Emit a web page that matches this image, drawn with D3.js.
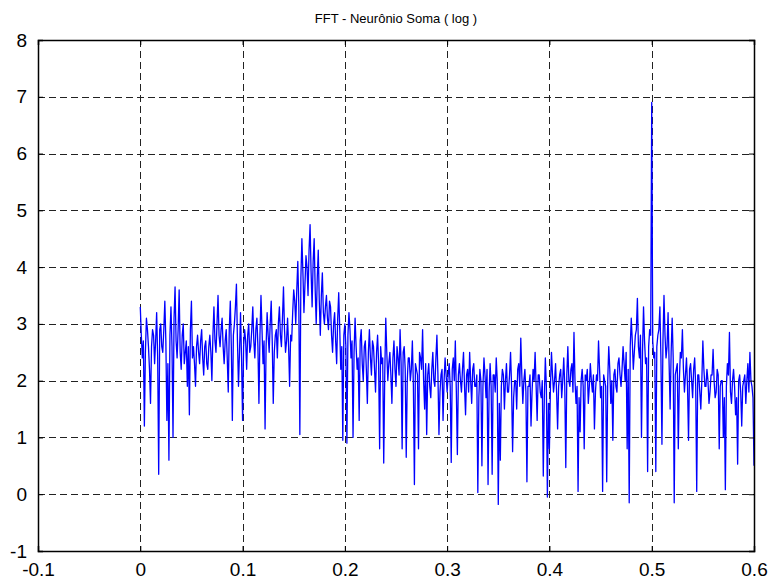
<!DOCTYPE html>
<html>
<head>
<meta charset="utf-8">
<script src="https://cdn.jsdelivr.net/npm/d3@7"></script>
<style>
  body { margin: 0; background: #fff; }
  svg text { font-family: "Liberation Sans", Arial, sans-serif; }
</style>
</head>
<body>
<div id="chart"></div>
<script>
// Chart text
const chartTitle = 'FFT - Neurônio Soma ( log )';

// Axis ticks
const xTicks = [-0.1, 0, 0.1, 0.2, 0.3, 0.4, 0.5, 0.6];
const yTicks = [-1, 0, 1, 2, 3, 4, 5, 6, 7, 8];

// Frequency sampling of the spectrum
const freqStart = 0;
const freqStep = 0.001;

// log magnitude (one value per frequency bin)
const logMag0 = [ // 0.000 - 0.099
    3.3, 2.8, 2.4, 2.7, 1.2, 2.5, 3.1, 2.9, 2.6, 2.2,
    1.6, 2.6, 2.9, 2.8, 2.3, 2.7, 3.2, 2.4, 0.35, 2.9,
    3.0, 2.6, 2.5, 2.9, 3.4, 2.7, 1.3, 2.3, 0.6, 2.8,
    3.3, 2.6, 1.0, 3.1, 3.65, 2.7, 2.4, 2.9, 3.6, 2.5,
    2.2, 2.8, 3.0, 2.3, 2.5, 2.7, 1.9, 2.6, 1.4, 2.9,
    3.4, 2.4, 2.6, 2.3, 1.9, 2.6, 2.8, 2.5, 2.3, 2.7,
    2.9, 2.4, 2.1, 2.6, 2.7, 2.3, 2.2, 2.6, 2.8, 2.5,
    2.0, 2.8, 3.3, 2.7, 2.5, 3.0, 3.5, 2.8, 2.6, 2.9,
    3.1, 2.6, 2.3, 2.7, 2.9, 2.4, 1.8, 2.9, 3.4, 2.6,
    1.3, 2.8, 3.0, 3.3, 3.7, 2.7, 1.9, 2.5, 3.2, 2.4
];
const logMag1 = [ // 0.100 - 0.199
    1.3, 2.6, 2.9, 2.7, 2.2, 2.8, 3.0, 2.5, 2.6, 2.9,
    3.3, 2.7, 2.4, 2.9, 3.1, 2.6, 1.6, 2.8, 3.5, 2.9,
    2.3, 2.7, 1.15, 2.6, 3.2, 2.8, 2.5, 3.0, 3.4, 2.7,
    1.6, 2.5, 2.8, 2.9, 2.4, 3.0, 3.3, 2.8, 2.6, 3.1,
    3.65, 2.9, 2.5, 2.7, 3.1, 2.6, 1.9, 2.8, 2.7, 3.2,
    3.6, 3.4, 3.0, 3.6, 4.1, 3.3, 1.05, 3.8, 4.5, 3.9,
    3.2, 3.7, 4.2, 4.0, 3.5, 4.3, 4.75, 3.9, 3.3, 4.1,
    4.5, 3.6, 3.0, 3.8, 4.3, 3.4, 2.8, 3.5, 3.9, 3.2,
    3.0, 3.3, 3.5, 3.1, 2.9, 3.4, 3.3, 2.8, 2.5, 3.0,
    3.2, 2.7, 2.3, 3.1, 3.55, 2.9, 2.2, 2.6, 0.95, 2.8
];
const logMag2 = [ // 0.200 - 0.299
    3.0, 2.6, 0.9, 2.8, 3.2, 2.9, 2.4, 2.7, 1.0, 2.5,
    3.1, 2.6, 2.2, 2.4, 1.3, 2.7, 2.9, 2.3, 2.0, 2.6,
    2.7, 2.2, 1.6, 2.5, 2.9, 2.4, 2.1, 2.7, 2.6, 2.2,
    1.8, 2.5, 2.8, 2.3, 0.8, 2.6, 2.3, 2.4, 0.55, 2.1,
    3.1, 2.5, 2.0, 2.3, 2.5, 2.1, 1.6, 2.4, 2.7, 2.2,
    1.9, 2.6, 2.4, 2.1, 2.9, 2.3, 0.8, 2.5, 2.6, 2.2,
    0.65, 2.0, 2.4, 2.4, 2.0, 2.2, 2.7, 1.9, 0.17, 2.3,
    2.2, 2.1, 0.8, 2.5, 2.4, 2.2, 2.9, 2.0, 1.5, 2.3,
    1.05, 2.1, 2.3, 1.9, 1.7, 2.2, 2.5, 2.0, 1.9, 2.4,
    2.8, 2.1, 1.05, 1.8, 2.1, 2.2, 1.3, 2.0, 2.4, 2.1
];
const logMag3 = [ // 0.300 - 0.399
    1.8, 2.1, 2.3, 1.9, 0.56, 2.2, 2.4, 2.0, 2.7, 1.8,
    0.7, 2.1, 2.3, 2.0, 1.8, 2.2, 2.5, 1.9, 1.4, 2.1,
    2.2, 1.8, 2.5, 2.0, 1.6, 2.2, 2.3, 1.9, 1.9, 2.1,
    0.03, 1.7, 2.2, 2.0, 0.5, 1.9, 2.4, 2.1, 1.7, 2.2,
    0.17, 1.8, 2.3, 1.9, 0.35, 2.1, 2.1, 1.8, 2.4, 2.0,
    -0.18, 1.6, 0.6, 1.9, 2.2, 2.1, 1.5, 2.0, 2.3, 1.8,
    1.8, 2.1, 2.5, 1.9, 0.75, 1.7, 2.0, 2.0, 1.5, 2.2,
    2.3, 1.9, 2.75, 2.1, 1.6, 2.0, 2.2, 1.8, 0.22, 1.9,
    1.9, 2.1, 1.2, 1.8, 2.2, 2.0, 2.5, 1.9, 1.3, 2.1,
    2.1, 1.8, 1.7, 2.0, 0.32, 1.7, 2.4, 1.9, -0.05, 1.6
];
const logMag4 = [ // 0.400 - 0.499
    0.8, 1.9, 2.5, 2.1, 1.8, 2.0, 2.3, 1.8, 1.15, 1.9,
    2.1, 2.2, 1.7, 2.0, 2.4, 1.9, 0.47, 2.1, 2.6, 2.0,
    1.9, 2.2, 2.3, 1.8, 2.85, 2.0, 1.6, 1.9, 0.05, 1.7,
    1.1, 2.0, 2.2, 1.9, 0.8, 2.1, 2.0, 2.2, 1.6, 1.9,
    2.3, 2.0, 1.8, 2.1, 1.15, 1.8, 2.1, 2.0, 2.7, 2.2,
    1.7, 1.9, 0.05, 2.1, 2.0, 1.9, 0.22, 2.0, 2.6, 2.2,
    1.6, 2.0, 0.95, 2.1, 2.2, 1.9, 1.8, 2.3, 2.4, 2.1,
    1.9, 2.2, 2.6, 2.3, 2.0, 2.5, 0.8, 2.2, -0.15, 2.6,
    3.1, 2.7, 2.2, 2.5, 2.8, 2.9, 3.45, 2.6, 2.4, 2.8,
    1.0, 2.5, 3.3, 2.7, 2.3, 2.4, 0.4, 2.6, 2.9, 2.8
];
const logMag5 = [ // 0.500 - 0.600
    6.9, 2.7, 2.4, 2.5, 0.4, 2.6, 2.8, 2.9, 3.3, 2.4,
    0.88, 2.7, 3.5, 2.8, 2.4, 2.6, 3.2, 2.3, 1.5, 2.5,
    3.1, 2.4, -0.15, 2.1, 2.2, 2.3, 0.8, 2.0, 2.5, 2.4,
    2.9, 2.2, 1.8, 2.1, 2.4, 1.9, 0.95, 2.2, 2.3, 2.0,
    1.7, 2.2, 2.4, 1.9, 0.05, 2.1, 2.1, 1.8, 1.5, 2.0,
    2.7, 2.2, 1.9, 1.9, 2.2, 2.0, 1.6, 1.8, 2.1, 2.1,
    2.55, 2.0, 1.7, 1.8, 2.2, 2.1, 0.8, 1.9, 2.0, 2.0,
    1.0, 1.7, 0.08, 1.9, 2.3, 2.1, 2.85, 1.8, 1.6, 2.0,
    2.2, 1.9, 1.4, 1.7, 0.53, 2.0, 2.1, 1.8, 1.2, 1.9,
    2.0, 2.1, 1.6, 2.0, 2.3, 1.8, 2.5, 2.0, 1.9, 1.7,
    0.5
];

const logMag = [].concat(logMag0, logMag1, logMag2, logMag3, logMag4, logMag5);
const spectrum = logMag.map((v, i) => ({ freq: freqStart + i * freqStep, value: v }));

// Layout
const width = 773;
const height = 580;
const margin = { top: 40, right: 19, bottom: 29, left: 38 };
const plotW = width - margin.left - margin.right;
const plotH = height - margin.top - margin.bottom;

const svg = d3.select('#chart')
    .append('svg')
    .attr('width', width)
    .attr('height', height);

const g = svg.append('g')
    .attr('transform', `translate(${margin.left},${margin.top})`);

const x = d3.scaleLinear().domain([-0.1, 0.6]).range([0, plotW]);
const y = d3.scaleLinear().domain([-1, 8]).range([plotH, 0]);

// Grid (dashed)
g.append('g')
    .selectAll('line')
    .data(xTicks.slice(1, -1))
    .enter()
    .append('line')
    .attr('x1', d => Math.round(x(d)) + 0.5)
    .attr('x2', d => Math.round(x(d)) + 0.5)
    .attr('y1', 0)
    .attr('y2', plotH)
    .attr('stroke', '#222')
    .attr('stroke-width', 1)
    .attr('stroke-dasharray', '7,4');

g.append('g')
    .selectAll('line')
    .data(yTicks.slice(1, -1))
    .enter()
    .append('line')
    .attr('y1', d => Math.round(y(d)) + 0.5)
    .attr('y2', d => Math.round(y(d)) + 0.5)
    .attr('x1', 0)
    .attr('x2', plotW)
    .attr('stroke', '#222')
    .attr('stroke-width', 1)
    .attr('stroke-dasharray', '7,4');

// Spectrum line
const line = d3.line()
    .x(d => x(d.freq))
    .y(d => y(d.value));

g.append('path')
    .datum(spectrum)
    .attr('fill', 'none')
    .attr('stroke', '#0000ff')
    .attr('stroke-width', 1.3)
    .attr('stroke-linejoin', 'round')
    .attr('d', line);

// Axes: ticks inside, box all round
const tickFont = 19;
const plainNum = d => String(d);

const xAxis = g.append('g')
    .attr('transform', `translate(0,${plotH})`)
    .call(d3.axisBottom(x).tickValues(xTicks).tickSize(-5).tickPadding(12)
        .tickFormat(plainNum));
xAxis.select('.domain').attr('stroke', '#000').attr('stroke-width', 1.5);
xAxis.selectAll('text')
    .attr('fill', '#000')
    .style('font-size', tickFont + 'px');

const yAxis = g.append('g')
    .call(d3.axisLeft(y).tickValues(yTicks).tickSize(-5).tickPadding(11)
        .tickFormat(plainNum));
yAxis.select('.domain').attr('stroke', '#000').attr('stroke-width', 1.5);
yAxis.selectAll('text')
    .attr('fill', '#000')
    .style('font-size', tickFont + 'px');

const xTop = g.append('g')
    .call(d3.axisTop(x).tickValues(xTicks).tickSize(-5).tickFormat(''));
xTop.select('.domain').attr('stroke', '#000').attr('stroke-width', 1.5);

const yRight = g.append('g')
    .attr('transform', `translate(${plotW},0)`)
    .call(d3.axisRight(y).tickValues(yTicks).tickSize(-5).tickFormat(''));
yRight.select('.domain').attr('stroke', '#000').attr('stroke-width', 1.5);

// Title
svg.append('text')
    .attr('x', margin.left + plotW / 2)
    .attr('y', 23)
    .attr('text-anchor', 'middle')
    .style('font-size', '13px')
    .attr('fill', '#000')
    .text(chartTitle);
</script>
</body>
</html>
